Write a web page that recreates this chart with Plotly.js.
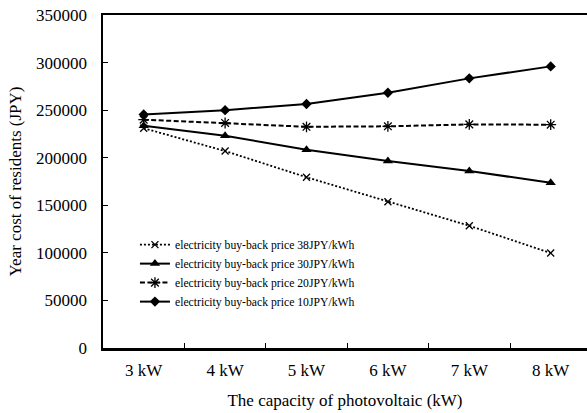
<!DOCTYPE html>
<html>
<head>
<meta charset="utf-8">
<script src="https://cdn.plot.ly/plotly-3.0.1.min.js"></script>
<style>html,body{margin:0;padding:0;background:#fff;}#chart{width:587px;height:413px;}</style>
</head>
<body>
<div id="chart"></div>
<script>
const categories = ["3 kW", "4 kW", "5 kW", "6 kW", "7 kW", "8 kW"];
const price38 = [231000, 207000, 179500, 153800, 128500, 99800];
const price30 = [233700, 223000, 208400, 196500, 186000, 173700];
const price20 = [240000, 236500, 232500, 233000, 235000, 234700];
const price10 = [245500, 250000, 256400, 268300, 283400, 296000];
const seriesNames = [
  "electricity buy-back price 38JPY/kWh",
  "electricity buy-back price 30JPY/kWh",
  "electricity buy-back price 20JPY/kWh",
  "electricity buy-back price 10JPY/kWh"
];
const yTicks = [0, 50000, 100000, 150000, 200000, 250000, 300000, 350000];

const font = "Liberation Serif";
const traces = [
  {x: categories, y: price38, name: seriesNames[0], mode: "lines+markers",
   line: {color: "#000", width: 1.8, dash: "2px,2px"},
   marker: {symbol: "x-thin-open", size: 7, color: "#000", line: {color: "#000", width: 1.3}}},
  {x: categories, y: price30, name: seriesNames[1], mode: "lines+markers",
   line: {color: "#000", width: 2}, marker: {symbol: "triangle-up", size: 9, color: "#000"}},
  {x: categories, y: price20, name: seriesNames[2], mode: "lines+markers",
   line: {color: "#000", width: 2, dash: "5px,2.5px"},
   marker: {symbol: "asterisk-open", size: 9, color: "#000", line: {color: "#000", width: 1.3}}},
  {x: categories, y: price10, name: seriesNames[3], mode: "lines+markers",
   line: {color: "#000", width: 2}, marker: {symbol: "diamond", size: 8, color: "#000"}}
];

const layout = {
  width: 587, height: 413,
  margin: {l: 103, r: 0, t: 15, b: 65, pad: 0},
  paper_bgcolor: "#fff", plot_bgcolor: "#fff",
  font: {family: font, color: "#000", size: 17},
  showlegend: true,
  legend: {x: 0.066, y: 0.354, xanchor: "left", yanchor: "top",
    font: {family: font, size: 11.7, color: "#000"}, bgcolor: "rgba(0,0,0,0)", borderwidth: 0},
  xaxis: {type: "category", range: [-0.5, 5.446], showgrid: false, zeroline: false,
    showline: true, linecolor: "#000", linewidth: 2.5, mirror: true,
    ticks: "inside", tickson: "boundaries", ticklen: 5, tickwidth: 1, tickcolor: "#000",
    tickfont: {family: font, size: 17}, ticklabelstandoff: 5,
    title: {text: "The capacity of photovoltaic (kW)", font: {family: font, size: 17}, standoff: 15}},
  yaxis: {range: [0, 350000], tickvals: yTicks, ticktext: yTicks.map(String),
    showgrid: false, zeroline: false, showline: true, linecolor: "#000", linewidth: 2.5,
    ticks: "inside", ticklen: 5, tickwidth: 1, tickcolor: "#000",
    tickfont: {family: font, size: 17}, ticklabelstandoff: 10,
    title: {text: "Year cost of residents (JPY)", font: {family: font, size: 17}, standoff: 10}}
};

Plotly.newPlot("chart", traces, layout, {displayModeBar: false, staticPlot: true});
</script>
</body>
</html>
